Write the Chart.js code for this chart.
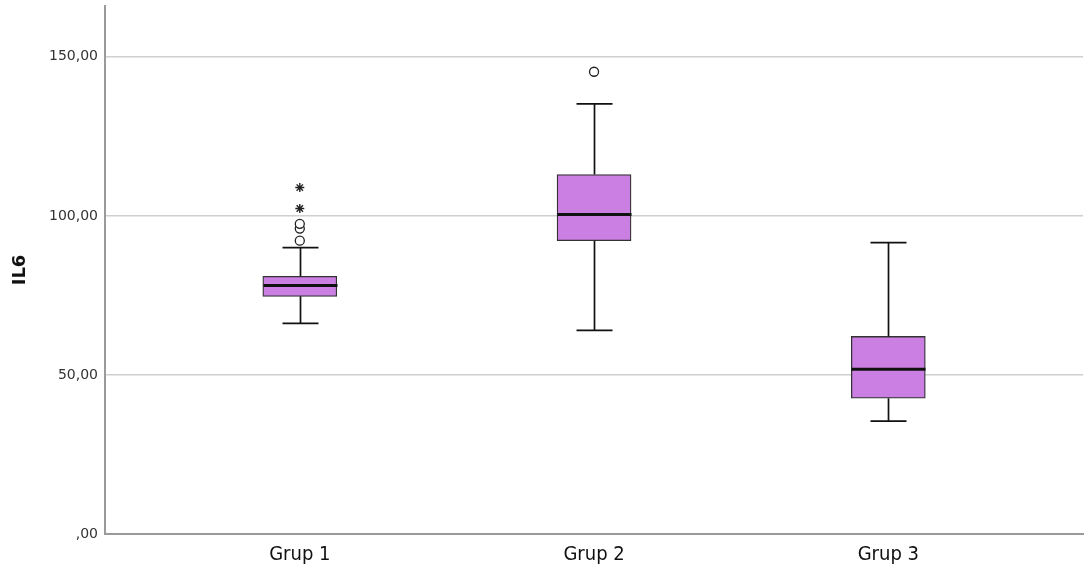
<!DOCTYPE html>
<html>
<head>
<meta charset="utf-8">
<script src="https://cdn.jsdelivr.net/npm/chart.js@4"></script>
<style>
  html, body { margin: 0; padding: 0; background: #fff; }
  #wrap { width: 1089px; height: 576px; position: relative; }
</style>
</head>
<body>
<div id="wrap"><canvas id="graficoIL6"></canvas></div>
<script>
"use strict";

// Datos
const grupos = ['Grup 1', 'Grup 2', 'Grup 3'];
const minimos = [66.2, 64.0, 35.5];
const q1 = [74.7, 92.2, 42.7];
const medianas = [78.1, 100.4, 51.8];
const q3 = [81.0, 113.0, 62.1];
const maximos = [90.0, 135.2, 91.6];
const atipicos = [{ x: 1, y: 92.2 }, { x: 1, y: 96.0 }, { x: 1, y: 97.5 }, { x: 2, y: 145.3 }];
const extremos = [{ x: 1, y: 102.3 }, { x: 1, y: 108.9 }];
const ticksY = [0, 50, 100, 150];

const colorCaja = '#cb7fe2';

// Bigotes y medianas dibujados con las escalas del grafico
const bigotesPlugin = {
    id: 'bigotes',
    afterDatasetsDraw(chart) {
        const ctx = chart.ctx;
        const sx = chart.scales.x;
        const sy = chart.scales.y;
        ctx.save();
        ctx.strokeStyle = '#111';
        grupos.forEach(function (g, i) {
            const cx = Math.round(sx.getPixelForValue(i + 1)) + 0.5;
            const half = 37;
            const cap = 18;
            ctx.lineWidth = 1.7;
            ctx.beginPath();
            ctx.moveTo(cx, sy.getPixelForValue(q3[i]));
            ctx.lineTo(cx, sy.getPixelForValue(maximos[i]));
            ctx.moveTo(cx - cap, sy.getPixelForValue(maximos[i]));
            ctx.lineTo(cx + cap, sy.getPixelForValue(maximos[i]));
            ctx.moveTo(cx, sy.getPixelForValue(q1[i]));
            ctx.lineTo(cx, sy.getPixelForValue(minimos[i]));
            ctx.moveTo(cx - cap, sy.getPixelForValue(minimos[i]));
            ctx.lineTo(cx + cap, sy.getPixelForValue(minimos[i]));
            ctx.stroke();
            ctx.lineWidth = 3;
            ctx.beginPath();
            ctx.moveTo(cx - half, sy.getPixelForValue(medianas[i]));
            ctx.lineTo(cx + half, sy.getPixelForValue(medianas[i]));
            ctx.stroke();
        });
        ctx.restore();
    }
};

const ctx = document.getElementById('graficoIL6').getContext('2d');
new Chart(ctx, {
    type: 'bar',
    data: {
        datasets: [{
            label: 'Caja',
            data: grupos.map((g, i) => ({ x: i + 1, y: [q1[i], q3[i]] })),
            backgroundColor: colorCaja,
            borderColor: '#333',
            borderWidth: 1.3,
            borderSkipped: false,
            barThickness: 74,
            order: 2
        }, {
            type: 'scatter',
            label: 'Atipicos',
            data: atipicos,
            pointStyle: 'circle',
            pointRadius: 4.5,
            pointBorderWidth: 1.3,
            pointBackgroundColor: '#fff',
            pointBorderColor: '#222',
            order: 1
        }, {
            type: 'scatter',
            label: 'Extremos',
            data: extremos,
            pointStyle: 'star',
            pointRadius: 4.5,
            pointBorderWidth: 1.4,
            pointBorderColor: '#222',
            order: 1
        }]
    },
    options: {
        responsive: true,
        maintainAspectRatio: false,
        animation: false,
        layout: { padding: { top: 3, right: 4, left: 0, bottom: 0 } },
        plugins: {
            legend: { display: false },
            tooltip: { enabled: false }
        },
        scales: {
            x: {
                type: 'linear',
                min: 0.338,
                max: 3.662,
                offset: false,
                bounds: 'data',
                afterBuildTicks: function (scale) {
                    scale.ticks = grupos.map((g, i) => ({ value: i + 1 }));
                },
                afterFit: function (scale) { scale.height = 42; },
                ticks: {
                    callback: function (v) { return grupos[v - 1]; },
                    color: '#111',
                    padding: 9,
                    font: { family: 'DejaVu Sans Condensed', size: 20 }
                },
                grid: { display: false, drawTicks: false },
                border: { color: '#9a9a9a', width: 2 }
            },
            y: {
                min: 0,
                max: 166,
                afterBuildTicks: function (scale) {
                    scale.ticks = ticksY.map(v => ({ value: v }));
                },
                afterFit: function (scale) {
                    scale.width = 105;
                    scale.paddingTop = 0;
                },
                title: {
                    display: true,
                    text: 'IL6',
                    color: '#111',
                    padding: { top: 10, bottom: 0 },
                    font: { family: 'DejaVu Sans', size: 18, weight: 'bold' }
                },
                ticks: {
                    callback: function (v) { return v === 0 ? ',00' : v.toFixed(2).replace('.', ','); },
                    color: '#333',
                    padding: 7,
                    font: { family: 'DejaVu Sans', size: 14 }
                },
                grid: {
                    drawTicks: false,
                    color: function (c) { return c.tick && c.tick.value === 0 ? 'rgba(0,0,0,0)' : '#cfcfcf'; },
                    lineWidth: 1.5
                },
                border: { color: '#9a9a9a', width: 2 }
            }
        }
    },
    plugins: [bigotesPlugin]
});
</script>
</body>
</html>
